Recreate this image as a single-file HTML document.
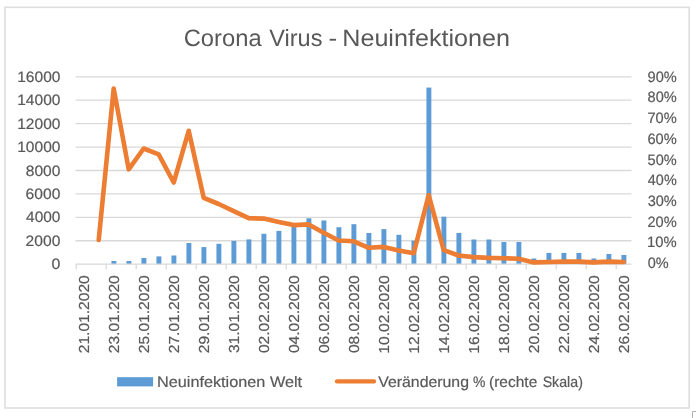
<!DOCTYPE html>
<html><head><meta charset="utf-8"><style>
html,body{margin:0;padding:0;background:#fff;width:696px;height:418px;overflow:hidden}
svg{position:absolute;left:0;top:0}
text{font-family:"Liberation Sans", sans-serif;text-rendering:geometricPrecision}
</style></head><body>
<svg width="696" height="418" viewBox="0 0 696 418">
<defs><filter id="bl" x="0" y="0" width="696" height="418" filterUnits="userSpaceOnUse"><feGaussianBlur stdDeviation="0.3"/></filter></defs>
<g filter="url(#bl)">
<rect x="0" y="0" width="696" height="418" fill="#fff"/>
<rect x="5.0" y="7.3" width="684.1" height="400.7" fill="#fff" stroke="#dedede" stroke-width="1.6"/>
<line x1="75.5" x2="631.5" y1="240.77" y2="240.77" stroke="#d9d9d9" stroke-width="1.3"/>
<line x1="75.5" x2="631.5" y1="217.35" y2="217.35" stroke="#d9d9d9" stroke-width="1.3"/>
<line x1="75.5" x2="631.5" y1="193.92" y2="193.92" stroke="#d9d9d9" stroke-width="1.3"/>
<line x1="75.5" x2="631.5" y1="170.50" y2="170.50" stroke="#d9d9d9" stroke-width="1.3"/>
<line x1="75.5" x2="631.5" y1="147.07" y2="147.07" stroke="#d9d9d9" stroke-width="1.3"/>
<line x1="75.5" x2="631.5" y1="123.65" y2="123.65" stroke="#d9d9d9" stroke-width="1.3"/>
<line x1="75.5" x2="631.5" y1="100.22" y2="100.22" stroke="#d9d9d9" stroke-width="1.3"/>
<line x1="75.5" x2="631.5" y1="76.80" y2="76.80" stroke="#d9d9d9" stroke-width="1.3"/>
<rect x="111.45" y="261.00" width="4.9" height="3.20" fill="#5b9bd5"/>
<rect x="126.45" y="261.00" width="4.9" height="3.20" fill="#5b9bd5"/>
<rect x="141.45" y="258.00" width="4.9" height="6.20" fill="#5b9bd5"/>
<rect x="156.45" y="256.40" width="4.9" height="7.80" fill="#5b9bd5"/>
<rect x="171.45" y="255.50" width="4.9" height="8.70" fill="#5b9bd5"/>
<rect x="186.45" y="243.00" width="4.9" height="21.20" fill="#5b9bd5"/>
<rect x="201.45" y="247.10" width="4.9" height="17.10" fill="#5b9bd5"/>
<rect x="216.45" y="243.80" width="4.9" height="20.40" fill="#5b9bd5"/>
<rect x="231.45" y="240.90" width="4.9" height="23.30" fill="#5b9bd5"/>
<rect x="246.45" y="239.40" width="4.9" height="24.80" fill="#5b9bd5"/>
<rect x="261.45" y="233.80" width="4.9" height="30.40" fill="#5b9bd5"/>
<rect x="276.45" y="230.90" width="4.9" height="33.30" fill="#5b9bd5"/>
<rect x="291.45" y="225.50" width="4.9" height="38.70" fill="#5b9bd5"/>
<rect x="306.45" y="218.30" width="4.9" height="45.90" fill="#5b9bd5"/>
<rect x="321.45" y="220.50" width="4.9" height="43.70" fill="#5b9bd5"/>
<rect x="336.45" y="227.20" width="4.9" height="37.00" fill="#5b9bd5"/>
<rect x="351.45" y="224.20" width="4.9" height="40.00" fill="#5b9bd5"/>
<rect x="366.45" y="233.00" width="4.9" height="31.20" fill="#5b9bd5"/>
<rect x="381.45" y="229.10" width="4.9" height="35.10" fill="#5b9bd5"/>
<rect x="396.45" y="234.80" width="4.9" height="29.40" fill="#5b9bd5"/>
<rect x="411.45" y="240.60" width="4.9" height="23.60" fill="#5b9bd5"/>
<rect x="426.45" y="87.60" width="4.9" height="176.60" fill="#5b9bd5"/>
<rect x="441.45" y="216.70" width="4.9" height="47.50" fill="#5b9bd5"/>
<rect x="456.45" y="232.90" width="4.9" height="31.30" fill="#5b9bd5"/>
<rect x="471.45" y="239.50" width="4.9" height="24.70" fill="#5b9bd5"/>
<rect x="486.45" y="239.50" width="4.9" height="24.70" fill="#5b9bd5"/>
<rect x="501.45" y="242.00" width="4.9" height="22.20" fill="#5b9bd5"/>
<rect x="516.45" y="242.00" width="4.9" height="22.20" fill="#5b9bd5"/>
<rect x="531.45" y="258.50" width="4.9" height="5.70" fill="#5b9bd5"/>
<rect x="546.45" y="252.90" width="4.9" height="11.30" fill="#5b9bd5"/>
<rect x="561.45" y="252.90" width="4.9" height="11.30" fill="#5b9bd5"/>
<rect x="576.45" y="252.90" width="4.9" height="11.30" fill="#5b9bd5"/>
<rect x="591.45" y="258.50" width="4.9" height="5.70" fill="#5b9bd5"/>
<rect x="606.45" y="254.00" width="4.9" height="10.20" fill="#5b9bd5"/>
<rect x="621.45" y="255.00" width="4.9" height="9.20" fill="#5b9bd5"/>
<line x1="75.5" x2="631.5" y1="264.20" y2="264.20" stroke="#d9d9d9" stroke-width="1.3"/>
<line x1="76.20" x2="76.20" y1="264.20" y2="269.20" stroke="#d9d9d9" stroke-width="1.3"/>
<line x1="106.20" x2="106.20" y1="264.20" y2="269.20" stroke="#d9d9d9" stroke-width="1.3"/>
<line x1="136.20" x2="136.20" y1="264.20" y2="269.20" stroke="#d9d9d9" stroke-width="1.3"/>
<line x1="166.20" x2="166.20" y1="264.20" y2="269.20" stroke="#d9d9d9" stroke-width="1.3"/>
<line x1="196.20" x2="196.20" y1="264.20" y2="269.20" stroke="#d9d9d9" stroke-width="1.3"/>
<line x1="226.20" x2="226.20" y1="264.20" y2="269.20" stroke="#d9d9d9" stroke-width="1.3"/>
<line x1="256.20" x2="256.20" y1="264.20" y2="269.20" stroke="#d9d9d9" stroke-width="1.3"/>
<line x1="286.20" x2="286.20" y1="264.20" y2="269.20" stroke="#d9d9d9" stroke-width="1.3"/>
<line x1="316.20" x2="316.20" y1="264.20" y2="269.20" stroke="#d9d9d9" stroke-width="1.3"/>
<line x1="346.20" x2="346.20" y1="264.20" y2="269.20" stroke="#d9d9d9" stroke-width="1.3"/>
<line x1="376.20" x2="376.20" y1="264.20" y2="269.20" stroke="#d9d9d9" stroke-width="1.3"/>
<line x1="406.20" x2="406.20" y1="264.20" y2="269.20" stroke="#d9d9d9" stroke-width="1.3"/>
<line x1="436.20" x2="436.20" y1="264.20" y2="269.20" stroke="#d9d9d9" stroke-width="1.3"/>
<line x1="466.20" x2="466.20" y1="264.20" y2="269.20" stroke="#d9d9d9" stroke-width="1.3"/>
<line x1="496.20" x2="496.20" y1="264.20" y2="269.20" stroke="#d9d9d9" stroke-width="1.3"/>
<line x1="526.20" x2="526.20" y1="264.20" y2="269.20" stroke="#d9d9d9" stroke-width="1.3"/>
<line x1="556.20" x2="556.20" y1="264.20" y2="269.20" stroke="#d9d9d9" stroke-width="1.3"/>
<line x1="586.20" x2="586.20" y1="264.20" y2="269.20" stroke="#d9d9d9" stroke-width="1.3"/>
<line x1="616.20" x2="616.20" y1="264.20" y2="269.20" stroke="#d9d9d9" stroke-width="1.3"/>
<polyline points="98.70,240.00 113.70,88.60 128.70,169.30 143.70,148.50 158.70,154.40 173.70,182.50 188.70,130.80 203.70,197.80 218.70,204.00 233.70,211.10 248.70,218.20 263.70,218.60 278.70,222.00 293.70,225.10 308.70,224.40 323.70,232.80 338.70,240.50 353.70,241.30 368.70,247.80 383.70,246.90 398.70,250.40 413.70,253.20 428.70,195.10 443.70,250.10 458.70,255.50 473.70,257.10 488.70,257.90 503.70,258.20 518.70,258.70 533.70,262.40 548.70,262.00 563.70,261.60 578.70,261.60 593.70,262.40 608.70,261.60 623.70,262.00" fill="none" stroke="#ed7d31" stroke-width="4.6" stroke-linejoin="round" stroke-linecap="round"/>
<text x="51.58" y="269.26" font-size="15.0" textLength="8.84" lengthAdjust="spacingAndGlyphs" fill="#595959" stroke="#595959" stroke-width="0.2">0</text>
<text x="25.61" y="245.83" font-size="15.0" textLength="34.80" lengthAdjust="spacingAndGlyphs" fill="#595959" stroke="#595959" stroke-width="0.2">2000</text>
<text x="26.05" y="222.41" font-size="15.0" textLength="34.36" lengthAdjust="spacingAndGlyphs" fill="#595959" stroke="#595959" stroke-width="0.2">4000</text>
<text x="25.61" y="198.98" font-size="15.0" textLength="34.81" lengthAdjust="spacingAndGlyphs" fill="#595959" stroke="#595959" stroke-width="0.2">6000</text>
<text x="25.72" y="175.56" font-size="15.0" textLength="34.69" lengthAdjust="spacingAndGlyphs" fill="#595959" stroke="#595959" stroke-width="0.2">8000</text>
<text x="17.22" y="152.13" font-size="15.0" textLength="43.19" lengthAdjust="spacingAndGlyphs" fill="#595959" stroke="#595959" stroke-width="0.2">10000</text>
<text x="17.22" y="128.71" font-size="15.0" textLength="43.19" lengthAdjust="spacingAndGlyphs" fill="#595959" stroke="#595959" stroke-width="0.2">12000</text>
<text x="17.22" y="105.28" font-size="15.0" textLength="43.19" lengthAdjust="spacingAndGlyphs" fill="#595959" stroke="#595959" stroke-width="0.2">14000</text>
<text x="17.22" y="81.86" font-size="15.0" textLength="43.19" lengthAdjust="spacingAndGlyphs" fill="#595959" stroke="#595959" stroke-width="0.2">16000</text>
<text x="647.64" y="268.06" font-size="15.0" textLength="20.88" lengthAdjust="spacingAndGlyphs" fill="#595959" stroke="#595959" stroke-width="0.2">0%</text>
<text x="647.07" y="247.36" font-size="15.0" textLength="29.66" lengthAdjust="spacingAndGlyphs" fill="#595959" stroke="#595959" stroke-width="0.2">10%</text>
<text x="647.46" y="226.66" font-size="15.0" textLength="29.26" lengthAdjust="spacingAndGlyphs" fill="#595959" stroke="#595959" stroke-width="0.2">20%</text>
<text x="647.65" y="205.96" font-size="15.0" textLength="29.07" lengthAdjust="spacingAndGlyphs" fill="#595959" stroke="#595959" stroke-width="0.2">30%</text>
<text x="647.87" y="185.26" font-size="15.0" textLength="28.84" lengthAdjust="spacingAndGlyphs" fill="#595959" stroke="#595959" stroke-width="0.2">40%</text>
<text x="647.62" y="164.56" font-size="15.0" textLength="29.10" lengthAdjust="spacingAndGlyphs" fill="#595959" stroke="#595959" stroke-width="0.2">50%</text>
<text x="647.46" y="143.86" font-size="15.0" textLength="29.26" lengthAdjust="spacingAndGlyphs" fill="#595959" stroke="#595959" stroke-width="0.2">60%</text>
<text x="647.45" y="123.16" font-size="15.0" textLength="29.27" lengthAdjust="spacingAndGlyphs" fill="#595959" stroke="#595959" stroke-width="0.2">70%</text>
<text x="647.57" y="102.46" font-size="15.0" textLength="29.15" lengthAdjust="spacingAndGlyphs" fill="#595959" stroke="#595959" stroke-width="0.2">80%</text>
<text x="647.52" y="81.76" font-size="15.0" textLength="29.20" lengthAdjust="spacingAndGlyphs" fill="#595959" stroke="#595959" stroke-width="0.2">90%</text>
<g transform="translate(89.14,0) rotate(-90)"><text x="-353.28" y="0.00" font-size="14.5" textLength="77.99" lengthAdjust="spacingAndGlyphs" fill="#595959" stroke="#595959" stroke-width="0.2">21.01.2020</text></g>
<g transform="translate(119.14,0) rotate(-90)"><text x="-353.28" y="0.00" font-size="14.5" textLength="77.99" lengthAdjust="spacingAndGlyphs" fill="#595959" stroke="#595959" stroke-width="0.2">23.01.2020</text></g>
<g transform="translate(149.14,0) rotate(-90)"><text x="-353.28" y="0.00" font-size="14.5" textLength="77.99" lengthAdjust="spacingAndGlyphs" fill="#595959" stroke="#595959" stroke-width="0.2">25.01.2020</text></g>
<g transform="translate(179.14,0) rotate(-90)"><text x="-353.28" y="0.00" font-size="14.5" textLength="77.99" lengthAdjust="spacingAndGlyphs" fill="#595959" stroke="#595959" stroke-width="0.2">27.01.2020</text></g>
<g transform="translate(209.14,0) rotate(-90)"><text x="-353.28" y="0.00" font-size="14.5" textLength="77.99" lengthAdjust="spacingAndGlyphs" fill="#595959" stroke="#595959" stroke-width="0.2">29.01.2020</text></g>
<g transform="translate(239.14,0) rotate(-90)"><text x="-353.09" y="0.00" font-size="14.5" textLength="77.80" lengthAdjust="spacingAndGlyphs" fill="#595959" stroke="#595959" stroke-width="0.2">31.01.2020</text></g>
<g transform="translate(269.14,0) rotate(-90)"><text x="-353.11" y="0.00" font-size="14.5" textLength="77.81" lengthAdjust="spacingAndGlyphs" fill="#595959" stroke="#595959" stroke-width="0.2">02.02.2020</text></g>
<g transform="translate(299.14,0) rotate(-90)"><text x="-353.11" y="0.00" font-size="14.5" textLength="77.81" lengthAdjust="spacingAndGlyphs" fill="#595959" stroke="#595959" stroke-width="0.2">04.02.2020</text></g>
<g transform="translate(329.14,0) rotate(-90)"><text x="-353.11" y="0.00" font-size="14.5" textLength="77.81" lengthAdjust="spacingAndGlyphs" fill="#595959" stroke="#595959" stroke-width="0.2">06.02.2020</text></g>
<g transform="translate(359.14,0) rotate(-90)"><text x="-353.11" y="0.00" font-size="14.5" textLength="77.81" lengthAdjust="spacingAndGlyphs" fill="#595959" stroke="#595959" stroke-width="0.2">08.02.2020</text></g>
<g transform="translate(389.14,0) rotate(-90)"><text x="-353.69" y="0.00" font-size="14.5" textLength="78.41" lengthAdjust="spacingAndGlyphs" fill="#595959" stroke="#595959" stroke-width="0.2">10.02.2020</text></g>
<g transform="translate(419.14,0) rotate(-90)"><text x="-353.69" y="0.00" font-size="14.5" textLength="78.41" lengthAdjust="spacingAndGlyphs" fill="#595959" stroke="#595959" stroke-width="0.2">12.02.2020</text></g>
<g transform="translate(449.14,0) rotate(-90)"><text x="-353.69" y="0.00" font-size="14.5" textLength="78.41" lengthAdjust="spacingAndGlyphs" fill="#595959" stroke="#595959" stroke-width="0.2">14.02.2020</text></g>
<g transform="translate(479.14,0) rotate(-90)"><text x="-353.69" y="0.00" font-size="14.5" textLength="78.41" lengthAdjust="spacingAndGlyphs" fill="#595959" stroke="#595959" stroke-width="0.2">16.02.2020</text></g>
<g transform="translate(509.14,0) rotate(-90)"><text x="-353.69" y="0.00" font-size="14.5" textLength="78.41" lengthAdjust="spacingAndGlyphs" fill="#595959" stroke="#595959" stroke-width="0.2">18.02.2020</text></g>
<g transform="translate(539.14,0) rotate(-90)"><text x="-353.28" y="0.00" font-size="14.5" textLength="77.99" lengthAdjust="spacingAndGlyphs" fill="#595959" stroke="#595959" stroke-width="0.2">20.02.2020</text></g>
<g transform="translate(569.14,0) rotate(-90)"><text x="-353.28" y="0.00" font-size="14.5" textLength="77.99" lengthAdjust="spacingAndGlyphs" fill="#595959" stroke="#595959" stroke-width="0.2">22.02.2020</text></g>
<g transform="translate(599.14,0) rotate(-90)"><text x="-353.28" y="0.00" font-size="14.5" textLength="77.99" lengthAdjust="spacingAndGlyphs" fill="#595959" stroke="#595959" stroke-width="0.2">24.02.2020</text></g>
<g transform="translate(629.14,0) rotate(-90)"><text x="-353.28" y="0.00" font-size="14.5" textLength="77.99" lengthAdjust="spacingAndGlyphs" fill="#595959" stroke="#595959" stroke-width="0.2">26.02.2020</text></g>
<text x="183.69" y="46.40" font-size="23.6" textLength="77.91" lengthAdjust="spacingAndGlyphs" fill="#595959">Corona</text>
<text x="269.30" y="46.40" font-size="23.6" textLength="53.15" lengthAdjust="spacingAndGlyphs" fill="#595959">Virus</text>
<text x="328.44" y="46.40" font-size="23.6" textLength="8.73" lengthAdjust="spacingAndGlyphs" fill="#595959">-</text>
<text x="342.24" y="46.40" font-size="23.6" textLength="167.80" lengthAdjust="spacingAndGlyphs" fill="#595959">Neuinfektionen</text>
<rect x="117.1" y="377.2" width="36" height="9.2" fill="#5b9bd5"/>
<text x="156.97" y="386.60" font-size="15.2" textLength="145.15" lengthAdjust="spacingAndGlyphs" fill="#595959" stroke="#595959" stroke-width="0.2">Neuinfektionen Welt</text>
<line x1="337" x2="374" y1="381.4" y2="381.4" stroke="#ed7d31" stroke-width="4.3" stroke-linecap="round"/>
<text x="378.23" y="386.60" font-size="15.2" textLength="90.78" lengthAdjust="spacingAndGlyphs" fill="#595959" stroke="#595959" stroke-width="0.2">Veränderung</text>
<text x="473.10" y="386.60" font-size="15.2" textLength="12.39" lengthAdjust="spacingAndGlyphs" fill="#595959" stroke="#595959" stroke-width="0.2">%</text>
<text x="489.04" y="386.60" font-size="15.2" textLength="48.25" lengthAdjust="spacingAndGlyphs" fill="#595959" stroke="#595959" stroke-width="0.2">(rechte</text>
<text x="542.66" y="386.60" font-size="15.2" textLength="40.22" lengthAdjust="spacingAndGlyphs" fill="#595959" stroke="#595959" stroke-width="0.2">Skala)</text>
<path d="M692.5 418 V411.5 H696" fill="none" stroke="#b4b4b4" stroke-width="1"/>
</g>
</svg>
</body></html>
